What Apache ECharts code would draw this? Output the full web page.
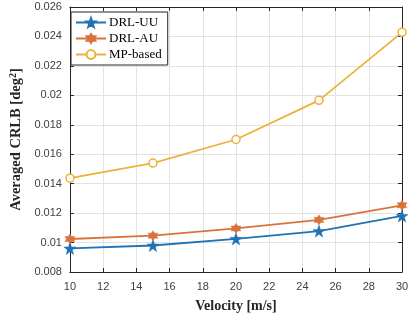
<!DOCTYPE html>
<html><head><meta charset="utf-8">
<script src="https://cdn.jsdelivr.net/npm/echarts@6/dist/echarts.min.js"></script>
<style>html,body{margin:0;padding:0;background:#fff}#c{width:417px;height:318px}</style>
</head><body><div id="c"></div>
<script>
var velocity = [10, 15, 20, 25, 30];
var drlUU = [0.0096, 0.0098, 0.01025, 0.01078, 0.01181];
var drlAU = [0.01024, 0.01047, 0.01096, 0.01154, 0.01253];
var mpBased = [0.01437, 0.0154, 0.0170, 0.01966, 0.02428];
var seriesNames = ['DRL-UU', 'DRL-AU', 'MP-based'];

function starPath(n, rOuter, rInner) {
  var pts = [];
  for (var i = 0; i < 2 * n; i++) {
    var r = i % 2 === 0 ? rOuter : rInner;
    var a = -Math.PI / 2 + i * Math.PI / n;
    pts.push((50 + r * Math.cos(a)).toFixed(2) + ',' + (50 + r * Math.sin(a)).toFixed(2));
  }
  return 'path://M' + pts.join('L') + 'Z';
}
var pentagram = starPath(5, 50, 20);
var hexagram = starPath(6, 50, 29);

var chart = echarts.init(document.getElementById('c'), null, {renderer: 'canvas'});
var axisFont = {fontFamily: 'Liberation Sans, Arial, sans-serif', fontSize: 11, color: '#404040'};
var mk = function (name, data, color, sym, size, fill) {
  return {
    name: name, type: 'line', data: velocity.map(function (v, i) { return [v, data[i]]; }),
    symbol: sym, symbolSize: size, showAllSymbol: true,
    lineStyle: {color: color, width: 1.8},
    itemStyle: {color: fill ? color : '#fff', borderColor: color, borderWidth: fill ? 0.5 : 1.5},
    emphasis: {disabled: true}
  };
};
chart.setOption({
  animation: false,
  grid: {left: 64, right: 15, top: 7, bottom: 42, containLabel: false},
  legend: {
    left: 71, top: 12, orient: 'vertical', itemGap: 3, itemWidth: 30, itemHeight: 11,
    backgroundColor: '#fff', borderColor: '#262626', borderWidth: 1, padding: [4, 6, 4, 4],
    textStyle: {fontFamily: 'Liberation Serif, Times New Roman, serif', fontSize: 13, color: '#000', padding: [0,0,0,-2]},
    data: seriesNames
  },
  xAxis: [{
    type: 'value', min: 10, max: 30, interval: 2,
    name: 'Velocity [m/s]', nameLocation: 'middle', nameGap: 27,
    nameTextStyle: {fontFamily: 'Liberation Serif, Times New Roman, serif', fontWeight: 'bold', fontSize: 14, color: '#262626'},
    axisLine: {lineStyle: {color: '#262626', width: 1}},
    axisTick: {inside: true, length: 4, lineStyle: {color: '#262626'}},
    axisLabel: Object.assign({margin: 9}, axisFont),
    splitLine: {show: true, lineStyle: {color: '#e3e3e3', width: 1}}
  }, {
    type: 'value', min: 10, max: 30, interval: 2, position: 'top',
    axisLine: {show: true, lineStyle: {color: '#262626', width: 1}},
    axisTick: {show: true, inside: true, length: 4, lineStyle: {color: '#262626'}},
    axisLabel: {show: false}, splitLine: {show: false}
  }],
  yAxis: [{
    type: 'value', min: 0.008, max: 0.026, interval: 0.002,
    name: 'Averaged CRLB [deg{s|2}]', nameLocation: 'middle', nameGap: 44,
    nameTextStyle: {fontFamily: 'Liberation Serif, Times New Roman, serif', fontWeight: 'bold', fontSize: 14.5, color: '#262626',
      rich: {s: {fontFamily: 'Liberation Serif, Times New Roman, serif', fontWeight: 'bold', fontSize: 10, color: '#262626', verticalAlign: 'top', padding: [0,0,6,0]}}},
    axisLine: {show: true, lineStyle: {color: '#262626', width: 1}},
    axisTick: {show: true, inside: true, length: 4, lineStyle: {color: '#262626'}},
    axisLabel: Object.assign({margin: 8, formatter: function (v) { return String(parseFloat(v.toFixed(3))); }}, axisFont),
    splitLine: {show: true, lineStyle: {color: '#e3e3e3', width: 1}}
  }, {
    type: 'value', min: 0.008, max: 0.026, interval: 0.002, position: 'right',
    axisLine: {show: true, lineStyle: {color: '#262626', width: 1}},
    axisTick: {show: true, inside: true, length: 4, lineStyle: {color: '#262626'}},
    axisLabel: {show: false}, splitLine: {show: false}
  }],
  series: [
    mk(seriesNames[0], drlUU, '#1f72b3', pentagram, 12, true),
    mk(seriesNames[1], drlAU, '#d9733c', hexagram, 10, true),
    mk(seriesNames[2], mpBased, '#edb13a', 'circle', 8, false)
  ]
});
</script></body></html>
